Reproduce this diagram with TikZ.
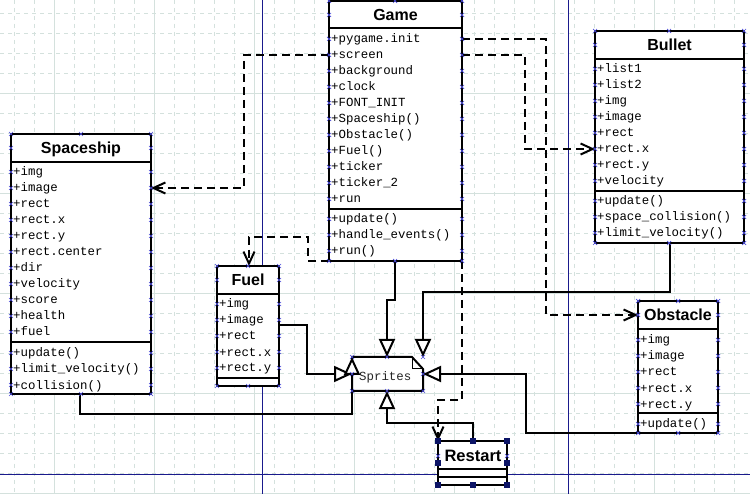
\documentclass[tikz,border=0pt]{standalone}
\usepackage{fontspec}
\setmainfont{Liberation Sans}
\newfontfamily\umlmono{Liberation Mono}
\usetikzlibrary{arrows.meta}
\definecolor{gridc}{HTML}{D4E1DD}
\definecolor{guideblue}{HTML}{1A1A8C}
\definecolor{markblue}{HTML}{4A4AD8}
\definecolor{handleblue}{HTML}{0C1466}
\newcommand{\xm}[2]{\draw[xmk] (#1-2,#2-2) -- (#1+2,#2+2) (#1-2,#2+2) -- (#1+2,#2-2);}
\tikzset{
  classrect/.style={draw=black, line width=2pt, fill=white, inner sep=0pt, outer sep=0pt, anchor=north west},
  sep/.style={line width=2pt, black},
  ttl/.style={font=\fontsize{16}{16}\selectfont\bfseries, anchor=base, inner sep=0pt},
  attr/.style={font=\umlmono\fontsize{12.4}{12.4}\selectfont, anchor=base west, inner sep=0pt},
  conn/.style={line width=2pt, black},
  dep/.style={conn, dash pattern=on 8pt off 5pt, -{Straight Barb[length=12pt,width=11pt]}},
  gen/.style={conn, -{Triangle[length=18pt,width=16pt,fill=white]}},
  xmk/.style={markblue, line width=0.7pt},
  handle/.style={fill=handleblue, draw=none, minimum size=5.5pt, inner sep=0pt},
  gridd/.style={gridc, line width=0.9pt, dash pattern=on 4pt off 4pt},
  grids/.style={gridc, line width=0.9pt},
}
\begin{document}
\begin{tikzpicture}[x=1pt,y=-1pt]
\useasboundingbox (0,0) rectangle (750,494);
\fill[white] (0,0) rectangle (750,494);
% grid
\foreach \k in {0,...,36} \draw[gridd] ({14+20*\k},0) -- ({14+20*\k},494);
\foreach \k in {0,...,24} \draw[gridd] (0,{13+20*\k}) -- (750,{13+20*\k});
\foreach \k in {0,...,6} \draw[grids] ({54+100*\k},0) -- ({54+100*\k},494);
\foreach \k in {0,...,4} \draw[grids] (0,{93+100*\k}) -- (750,{93+100*\k});
% guides
\draw[guideblue, line width=1pt] (262,0) -- (262,494);
\draw[guideblue, line width=1pt] (568,0) -- (568,494);
\draw[guideblue, line width=1pt] (0,474) -- (750,474);

% ---------- Game ----------
\node[classrect, minimum width=133pt, minimum height=260pt] (game) at (329,1) {};
\draw[sep] (329,28) -- (462,28);
\draw[sep] (329,209) -- (462,209);
\node[ttl] (gameT) at (395.5,21) {Game};
\foreach \t [count=\i] in {+pygame.init,+screen,+background,+clock,+FONT\_INIT,+Spaceship(),+Obstacle(),+Fuel(),+ticker,+ticker\_2,+run}
  \node[attr] at (331,{39+16*(\i-1)+4}) {\t};
\foreach \t [count=\i] in {+update(),+handle\_events(),+run()}
  \node[attr] at (331,{219+16*(\i-1)+4}) {\t};

% ---------- Spaceship ----------
\node[classrect, minimum width=140pt, minimum height=260pt] (ship) at (11,134) {};
\draw[sep] (11,162) -- (151,162);
\draw[sep] (11,342) -- (151,342);
\node[ttl] (shipT) at (81,154) {Spaceship};
\foreach \t [count=\i] in {+img,+image,+rect,+rect.x,+rect.y,+rect.center,+dir,+velocity,+score,+health,+fuel}
  \node[attr] at (13,{172+16*(\i-1)+4}) {\t};
\foreach \t [count=\i] in {+update(),+limit\_velocity(),+collision()}
  \node[attr] at (13,{353+16*(\i-1)+4}) {\t};

% ---------- Fuel ----------
\node[classrect, minimum width=62pt, minimum height=120pt] (fuel) at (217,266) {};
\draw[sep] (217,294) -- (279,294);
\draw[sep] (217,378) -- (279,378);
\node[ttl] (fuelT) at (248,286) {Fuel};
\foreach \t [count=\i] in {+img,+image,+rect,+rect.x,+rect.y}
  \node[attr] at (219,{304+16*(\i-1)+4}) {\t};

% ---------- Bullet ----------
\node[classrect, minimum width=149pt, minimum height=212pt] (bullet) at (595,31) {};
\draw[sep] (595,59) -- (744,59);
\draw[sep] (595,191) -- (744,191);
\node[ttl] (bulletT) at (669.5,51) {Bullet};
\foreach \t [count=\i] in {+list1,+list2,+img,+image,+rect,+rect.x,+rect.y,+velocity}
  \node[attr] at (597,{69+16*(\i-1)+4}) {\t};
\foreach \t [count=\i] in {+update(),+space\_collision(),+limit\_velocity()}
  \node[attr] at (597,{201+16*(\i-1)+4}) {\t};

% ---------- Obstacle ----------
\node[classrect, minimum width=80pt, minimum height=132pt] (obst) at (638,301) {};
\draw[sep] (638,329) -- (718,329);
\draw[sep] (638,413) -- (718,413);
\node[ttl] (obstT) at (678,321) {Obstacle};
\foreach \t [count=\i] in {+img,+image,+rect,+rect.x,+rect.y}
  \node[attr] at (640,{340+16*(\i-1)+4}) {\t};
\node[attr] at (640,428) {+update()};

% ---------- Sprites ----------
\node[minimum width=71pt, minimum height=34pt, inner sep=0pt, outer sep=0pt] (sprites) at (387.5,374) {};
\draw[line width=2pt, fill=white] (352,357) -- (412,357) -- (423,369) -- (423,391) -- (352,391) -- cycle;
\draw[line width=1pt] (412,357) -- (412,369) -- (423,369);
\node[attr, text=black!85] (spritesT) at (359,381) {Sprites};

% ---------- Restart ----------
\node[classrect, minimum width=69pt, minimum height=44pt] (restart) at (438,441) {};
\draw[sep] (438,469) -- (507,469);
\draw[sep] (438,477) -- (507,477);
\node[ttl, font=\fontsize{16.5}{16.5}\selectfont\bfseries] (restartT) at (473,461) {Restart};

% ---------- connector end points ----------
\coordinate (gScrW) at (329,55);
\coordinate (gInitE) at (462,39);
\coordinate (gScrE) at (462,55);
\coordinate (gBotW) at (329,261);
\coordinate (gBotE) at (462,261);
\coordinate (gBotM) at (395,261);
\coordinate (sImgE) at (151,188);
\coordinate (oTitW) at (638,315);
\coordinate (bRxW) at (595,149);
\coordinate (fTop) at (249,266);
\coordinate (rTopW) at (438,441);
\coordinate (rTopM) at (473,441);
\coordinate (spTopA) at (387,357);
\coordinate (spTopB) at (423,357);
\coordinate (spRight) at (423,374);
\coordinate (spLeft) at (352,374);
\coordinate (spTopW) at (352,357);
\coordinate (spBot) at (387,391);
\coordinate (buBot) at (670,243);
\coordinate (obBotW) at (638,433);
\coordinate (fuImgE) at (279,325);
\coordinate (shBot) at (80,394);

% dependencies (dashed)
\draw[dep] (gScrW) -- (244,55) |- (sImgE);
\draw[dep] (gInitE) -- (546,39) |- (oTitW);
\draw[dep] (gScrE) -- (525,55) |- (bRxW);
\draw[dep] (gBotW) -- (308,261) -- (308,237) -| (fTop);
\draw[dep] (gBotE) -- (462,400) -| (rTopW);

% generalizations (solid, hollow triangle)
\draw[gen] (gBotM) -- (395,300) -| (spTopA);
\draw[gen] (buBot) -- (670,292) -| (spTopB);
\draw[gen] (obBotW) -- (526,433) |- (spRight);
\draw[gen] (fuImgE) -- (307,325) |- (spLeft);
\draw[gen] (shBot) -- (80,414) -| (spTopW);
\draw[gen] (rTopM) -- (473,423) -| (spBot);

% editor markers
\foreach \y in {1,15,39,55,71,87,103,119,135,151,167,183,199,219,235,251,261} {\xm{329}{\y}\xm{462}{\y}}
\xm{395}{1}\xm{395}{261}
\foreach \y in {134,148,172,188,204,220,236,252,268,284,300,316,332,353,369,385,394} {\xm{11}{\y}\xm{151}{\y}}
\xm{81}{134}\xm{81}{394}
\foreach \y in {266,280,304,320,336,352,368,386} {\xm{217}{\y}\xm{279}{\y}}
\xm{248}{266}\xm{248}{386}
\foreach \y in {31,45,69,85,101,117,133,149,165,181,201,217,233,243} {\xm{595}{\y}\xm{744}{\y}}
\xm{669}{31}\xm{669}{243}
\foreach \y in {301,315,340,356,372,388,404,424,433} {\xm{638}{\y}\xm{718}{\y}}
\xm{678}{301}\xm{678}{433}
\foreach \y in {357,391} {\xm{352}{\y}\xm{387}{\y}\xm{423}{\y}}
\xm{352}{374}\xm{423}{374}
\xm{438}{456}\xm{507}{456}

% selection handles on Restart
\foreach \p [count=\i] in {{(438,441)},{(473,441)},{(507,441)},{(438,463)},{(507,463)},{(438,485)},{(473,485)},{(507,485)}}
  \node[handle] (h\i) at \p {};
\end{tikzpicture}
\end{document}
